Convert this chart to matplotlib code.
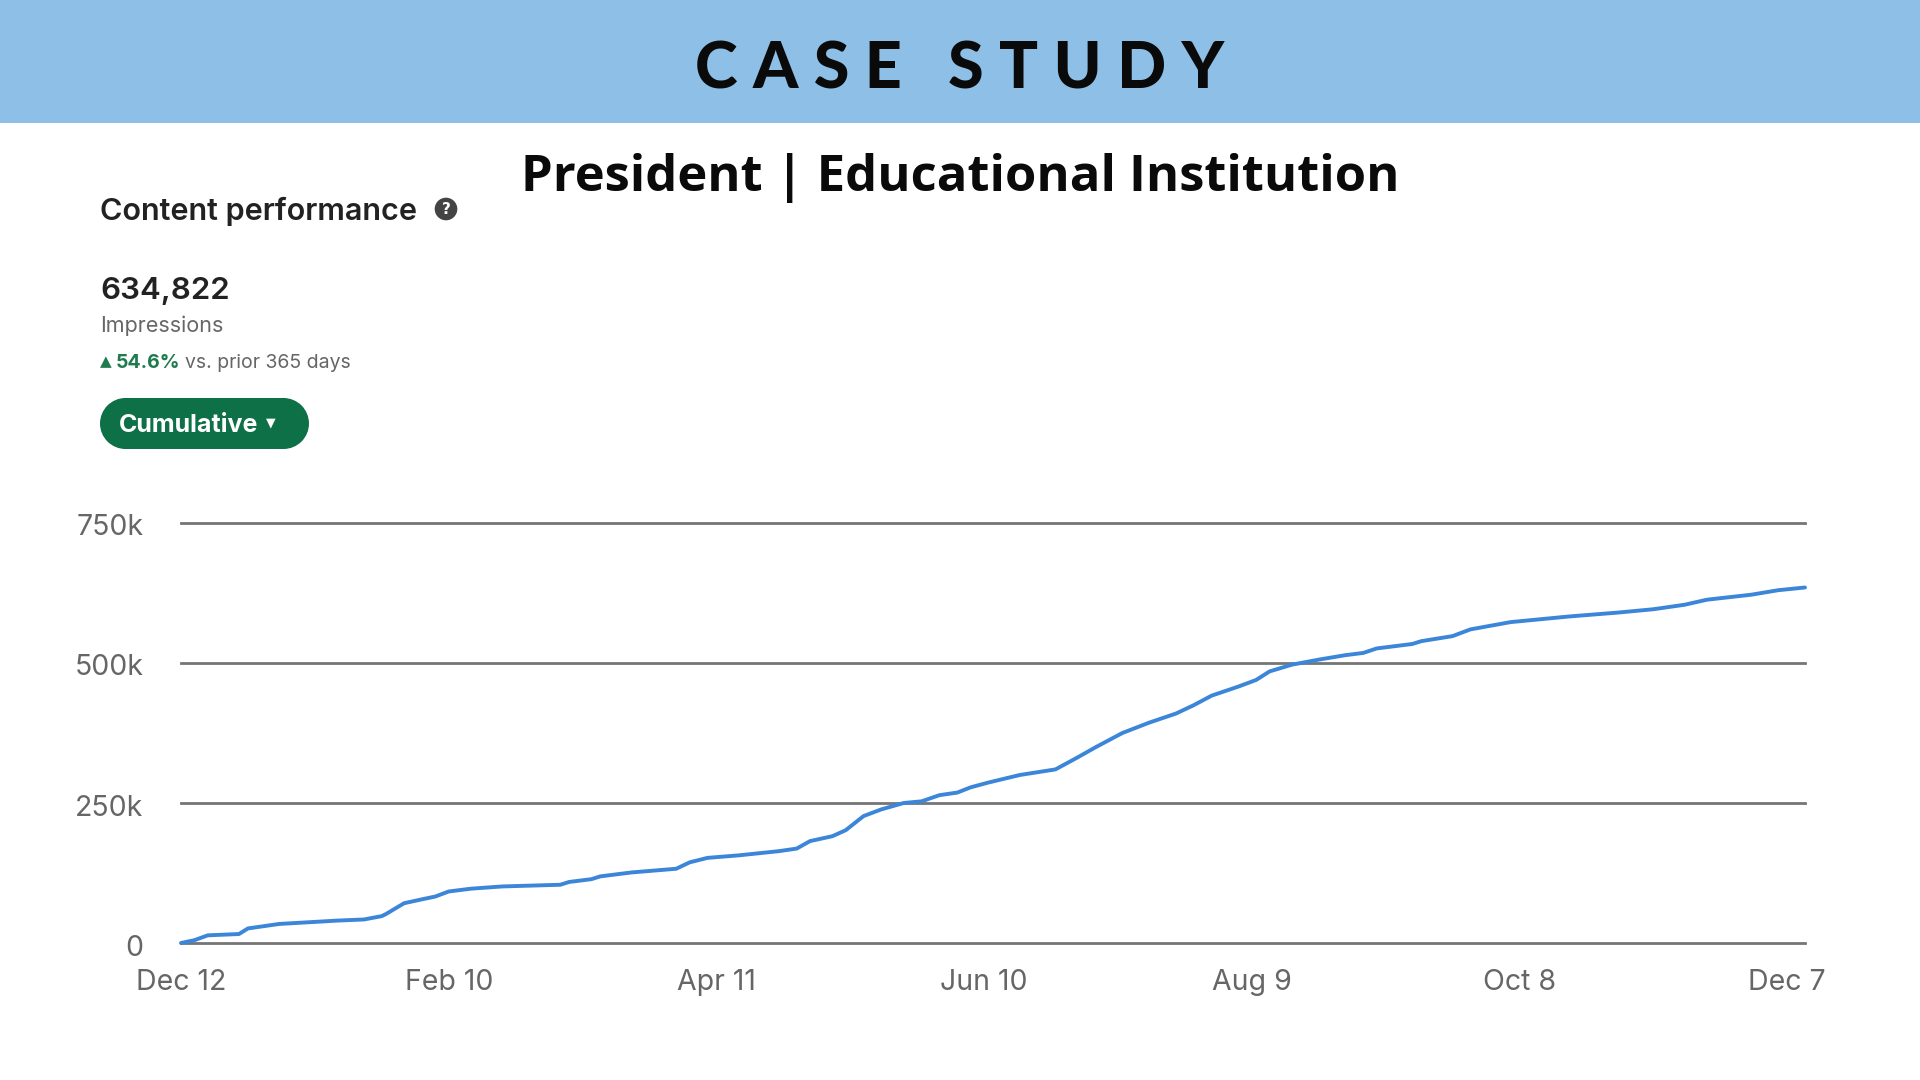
import matplotlib
matplotlib.use("Agg")
import matplotlib.pyplot as plt
from matplotlib.patches import Rectangle, Circle
import matplotlib.transforms as mtransforms
import datetime as dt

# ---- data ----
start_date = dt.date(2022, 12, 12)
day_offsets = [0, 3, 6, 13, 15, 22, 35, 41, 45, 46, 50, 54, 57, 60, 65, 72, 85, 87, 92, 94,
               101, 111, 114, 118, 125, 134, 138, 141, 146, 149, 153, 157, 162, 166, 170, 174,
               177, 181, 188, 196, 201, 205, 211, 217, 223, 227, 231, 237, 241, 244, 249, 255,
               261, 265, 268, 276, 278, 285, 289, 298, 311, 322, 330, 337, 342, 352, 358, 364]
impressions = [0, 5000, 13700, 16000, 26000, 34000, 40000, 42000, 48000, 52000, 71000, 78000,
               83000, 92000, 97000, 101000, 104000, 109000, 114000, 119000,
               126000, 132600, 144000, 152000, 156500, 164000, 168600, 182000, 190700, 201500,
               226700, 238700, 250000, 253000, 264000, 268600, 278000, 286600, 300000, 310000,
               331600, 349600, 375000, 393500, 409700, 424700, 441700, 457900, 469800, 485000,
               497000, 506000, 514000, 518000, 526000, 534000, 539000, 548000, 560000, 573000,
               583000, 590000, 596000, 604000, 613000, 622000, 630000, 634822]
y_ticks = [0, 250000, 500000, 750000]
y_tick_labels = ["0", "250k", "500k", "750k"]
x_tick_offsets = [0, 60, 120, 180, 240, 300, 360]
x_tick_labels = ["Dec 12", "Feb 10", "Apr 11", "Jun 10", "Aug 9", "Oct 8", "Dec 7"]

total_text = "634,822"
change_text = "54.6%"

dates = [start_date + dt.timedelta(days=d) for d in day_offsets]
x_ticks = [start_date + dt.timedelta(days=d) for d in x_tick_offsets]

W, H = 1920, 1080
fig = plt.figure(figsize=(19.2, 10.8), dpi=100)
fig.patch.set_facecolor("white")

def fx(px):
    return px / W

def fy(py):
    return 1 - py / H

# banner
fig.add_artist(Rectangle((0, fy(123)), 1, 123 / H, transform=fig.transFigure,
                         facecolor="#8ebfe7", edgecolor="none", zorder=0))
fig.text(fx(960), fy(70), "C A S E   S T U D Y", ha="center", va="center",
         fontsize=46.5, fontfamily="Lato", fontweight="black", color="#0a0a0a")
fig.text(fx(960), fy(178), "President | Educational Institution", ha="center", va="center",
         fontsize=36.5, fontfamily="Open Sans", fontweight="bold", color="#0a0a0a")

# LinkedIn-like header
fig.text(fx(100), fy(211), "Content performance", ha="left", va="center",
         fontsize=22, fontfamily="Inter", fontweight="semibold", color="#222222")
fig.text(fx(446), fy(209), "?", ha="center", va="center", fontsize=11,
         fontfamily="DejaVu Sans", fontweight="bold", color="white",
         bbox=dict(boxstyle="circle,pad=0.25", facecolor="#444444", edgecolor="none"))
fig.text(fx(100), fy(291), total_text, ha="left", va="center",
         fontsize=22.5, fontfamily="Inter", fontweight="semibold", color="#222222")
fig.text(fx(100), fy(326), "Impressions", ha="left", va="center",
         fontsize=15.5, fontfamily="Inter", color="#666666")
fig.text(fx(100), fy(362), "\u25B2", ha="left", va="center",
         fontsize=11, fontfamily="DejaVu Sans", color="#1f7a4d")
fig.text(fx(116), fy(363), change_text, ha="left", va="center",
         fontsize=14, fontfamily="Inter", fontweight="bold", color="#1f7a4d")
fig.text(fx(185), fy(363), "vs. prior 365 days", ha="left", va="center",
         fontsize=14, fontfamily="Inter", color="#666666")

# button
ax_btn = fig.add_axes([fx(100), fy(449), fx(209), 51 / H])
ax_btn.set_xlim(0, 209)
ax_btn.set_ylim(0, 51)
ax_btn.axis("off")
btn_color = "#0e7047"
ax_btn.add_patch(Rectangle((25.5, 0), 158, 51, facecolor=btn_color, edgecolor="none"))
ax_btn.add_patch(Circle((25.5, 25.5), 25.5, facecolor=btn_color, edgecolor="none"))
ax_btn.add_patch(Circle((183.5, 25.5), 25.5, facecolor=btn_color, edgecolor="none"))
ax_btn.text(19, 23, "Cumulative", ha="left", va="center", fontsize=18,
            fontfamily="Inter", fontweight="bold", color="white", zorder=5)
ax_btn.text(171, 26, "\u25BC", ha="center", va="center", fontsize=9,
            fontfamily="DejaVu Sans", color="white", zorder=5)

# chart
left, right, top, bottom = 181, 1805, 523, 943
ax = fig.add_axes([fx(left), fy(bottom), (right - left) / W, (bottom - top) / H])
ax.set_xlim(start_date, start_date + dt.timedelta(days=364))
ax.set_ylim(0, 750000)
for v in y_ticks:
    ax.axhline(v, color="#757575", lw=2.0, clip_on=False, zorder=1)
ax.plot(dates, impressions, color="#3b86d9", lw=2.8, clip_on=False, zorder=3,
        solid_joinstyle="round", solid_capstyle="round")
for s in ax.spines.values():
    s.set_visible(False)
ax.set_yticks(y_ticks)
ax.set_yticklabels(y_tick_labels)
ax.set_xticks(x_ticks)
ax.set_xticklabels(x_tick_labels)
ax.tick_params(axis="both", length=0, labelsize=20.5, labelcolor="#666666")
ax.tick_params(axis="y", pad=27)
ax.tick_params(axis="x", pad=19)
shift = mtransforms.ScaledTranslation(0, -2 / 100, fig.dpi_scale_trans)
for lab in ax.get_yticklabels():
    lab.set_fontfamily("Inter")
    lab.set_transform(lab.get_transform() + shift)
for lab in ax.get_xticklabels():
    lab.set_fontfamily("Inter")
ax.set_facecolor("none")

fig.savefig("out.png", dpi=100, facecolor="white")
